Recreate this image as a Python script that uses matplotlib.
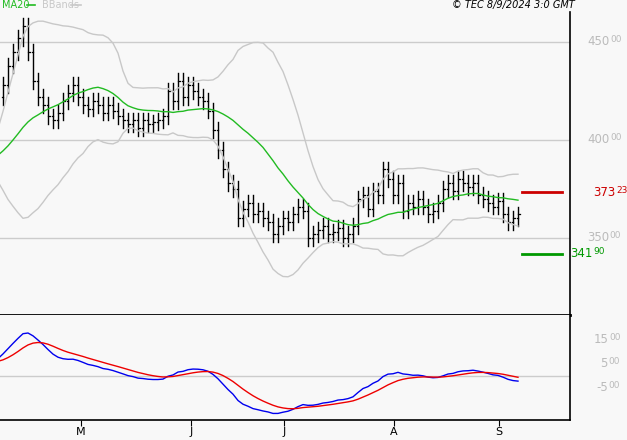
import numpy as np
import pandas as pd
import matplotlib
matplotlib.use("Agg")
import matplotlib.pyplot as plt

pre_close = [365, 368, 372, 370, 374, 377, 380, 378, 382, 380, 384, 387, 385, 389, 392,
             390, 388, 392, 386, 384, 388, 392, 390, 395, 393, 398, 402, 396, 404, 410]
close = [428, 438, 445, 452, 458, 445, 430, 422, 418, 412, 410, 414, 420, 424, 428, 422,
         418, 416, 420, 418, 414, 418, 415, 412, 410, 408, 410, 406, 410, 408, 409, 410,
         412, 425, 420, 430, 422, 428, 425, 422, 420, 415, 405, 395, 385, 378, 375, 360,
         365, 368, 362, 364, 360, 358, 352, 356, 360, 358, 362, 366, 364, 350, 352, 354,
         356, 352, 353, 355, 350, 352, 356, 370, 372, 365, 374, 372, 385, 380, 372, 378,
         364, 368, 366, 370, 366, 362, 364, 368, 375, 378, 374, 380, 378, 376, 378, 372,
         370, 368, 366, 369, 362, 358, 360, 362]
month_labels = ["M", "J", "J", "A", "S"]
month_idx = [15.6, 37.6, 56.2, 78.2, 99.2]
level_hi, level_lo = 373.23, 341.90

allc = np.array(pre_close + close, float)
n0 = len(pre_close)
n = len(close)
s = np.arange(len(allc))
ser = pd.Series(allc)
ma = ser.rolling(20).mean().values
sd = ser.rolling(20).std(ddof=0).values
up, lo = ma + 2 * sd, ma - 2 * sd
macd = (ser.ewm(span=12, adjust=False).mean() - ser.ewm(span=26, adjust=False).mean()) * 100
sig = macd.ewm(span=9, adjust=False).mean()

bg = "#f8f8f8"
fig = plt.figure(figsize=(6.27, 4.4), dpi=100, facecolor=bg)
W, H = 627, 440
axp = fig.add_axes([0, (H - 315) / H, 570 / W, 303 / H], facecolor=bg)
axm = fig.add_axes([0, (H - 420) / H, 570 / W, 105 / H], facecolor=bg, sharex=axp)

x = np.arange(n)
xs = s - n0
opens = np.concatenate([[close[0] - 6], close[:-1]])
cl = np.array(close, float)
hi = np.maximum(opens, cl) + 4
lw = np.minimum(opens, cl) - 4
for i in range(n):
    axp.plot([x[i], x[i]], [lw[i], hi[i]], color="black", lw=1.0)
    axp.plot([x[i] - 0.3, x[i]], [opens[i]] * 2, color="black", lw=0.9)
    axp.plot([x[i], x[i] + 0.3], [cl[i]] * 2, color="black", lw=0.9)
axp.plot(xs, ma, color="#22bb22", lw=1)
axp.plot(xs, up, color="#c8c8c8", lw=1)
axp.plot(xs, lo, color="#c8c8c8", lw=1)
for v in [350, 400, 450]:
    axp.axhline(v, color="#cccccc", lw=1, zorder=0)
axp.plot([103.8, 111.8], [level_hi] * 2, color="#cc0000", lw=2, clip_on=False)
axp.plot([103.8, 111.8], [level_lo] * 2, color="#009900", lw=2, clip_on=False)
axp.set_xlim(-0.6, 113.4)
axp.set_ylim(310.7, 465.3)

axm.plot(xs, macd, color="#0000ee", lw=1)
axm.plot(xs, sig, color="#ee0000", lw=1)
axm.axhline(0, color="#cccccc", lw=1, zorder=0)
axm.set_ylim(-1833, 2540)

for ax in (axp, axm):
    for sp in ["left", "top"]:
        ax.spines[sp].set_visible(False)
    ax.spines["right"].set_linewidth(1.2)
    ax.spines["bottom"].set_linewidth(1.2)
    ax.set_yticks([])
axp.spines["bottom"].set_linewidth(2)
axp.tick_params(axis="x", bottom=False, labelbottom=False)
axm.set_xticks(month_idx)
axm.set_xticklabels(month_labels, fontsize=8)
axm.tick_params(axis="x", length=4, pad=1)

def rlabel(ax, y, big, small, color, xpx):
    t = ax.text(xpx / 570, y, big, transform=ax.get_yaxis_transform(), fontsize=8.5,
                color=color, va="center", ha="left")
    ax.annotate(small, xy=(1, 1), xycoords=t, xytext=(0.5, 0), textcoords="offset points",
                fontsize=6.5, color=color, va="top", ha="left")

for v in [450, 400, 350]:
    rlabel(axp, v, str(v), "00", "#bbbbbb", 587)
rlabel(axp, level_hi, "373", "23", "#cc0000", 593)
rlabel(axp, level_lo, "341", "90", "#009900", 570)
for v, lab, xp in [(1500, "15", 594), (500, "5", 600), (-500, "-5", 596)]:
    rlabel(axm, v, lab, "00", "#bbbbbb", xp)

fig.text(2 / W, 1 - 5 / H, "MA20", color="#22bb22", fontsize=7, va="center")
fig.add_artist(plt.Line2D([27 / W, 35 / W], [1 - 5 / H] * 2, color="#22bb22", lw=1.2))
fig.text(42 / W, 1 - 5 / H, "BBands", color="#c8c8c8", fontsize=7, va="center")
fig.add_artist(plt.Line2D([71 / W, 81 / W], [1 - 5 / H] * 2, color="#c8c8c8", lw=1.2))
fig.text(575 / W, 1 - 5 / H, "© TEC 8/9/2024 3:0 GMT", fontsize=7, style="italic",
         ha="right", va="center")
fig.savefig("out.png", dpi=100, facecolor=bg)
